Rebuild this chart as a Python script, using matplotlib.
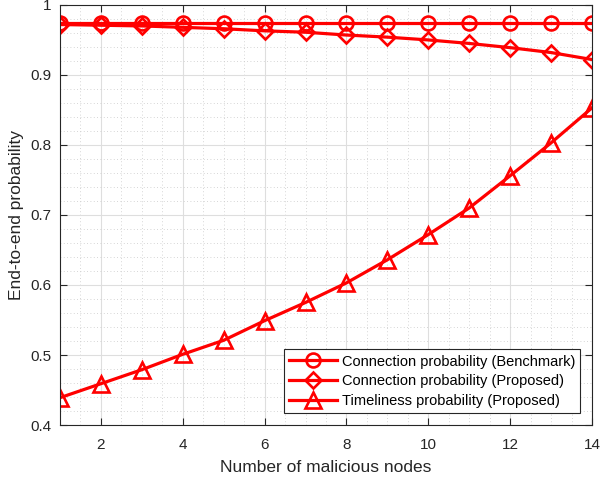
import numpy as np
import matplotlib
matplotlib.use("Agg")
import matplotlib.pyplot as plt
from matplotlib.ticker import MultipleLocator

plt.rcParams['font.family'] = ['Liberation Sans', 'DejaVu Sans']

n_nodes = np.arange(1, 15)
conn_bench = [0.974, 0.974, 0.974, 0.974, 0.974, 0.974, 0.974, 0.974, 0.974, 0.974, 0.974, 0.974, 0.974, 0.974]
conn_prop = [0.972, 0.971, 0.970, 0.968, 0.966, 0.963, 0.961, 0.957, 0.954, 0.950, 0.945, 0.939, 0.932, 0.922]
timely_prop = [0.439, 0.459, 0.479, 0.501, 0.521, 0.549, 0.575, 0.603, 0.636, 0.672, 0.710, 0.756, 0.803, 0.853]

labels = ['Connection probability (Benchmark)',
          'Connection probability (Proposed)',
          'Timeliness probability (Proposed)']

fig = plt.figure(figsize=(6.01, 4.79), dpi=100)
ax = fig.add_axes([0.0998, 0.1127, 0.8852, 0.877])

kw = dict(color='#ff0000', lw=2.3, markeredgewidth=1.9, markerfacecolor='none')
ax.plot(n_nodes, conn_bench, marker='o', markersize=10, label=labels[0], **kw)
ax.plot(n_nodes, conn_prop, marker='D', markersize=8.5, label=labels[1], **kw)
ax.plot(n_nodes, timely_prop, marker='^', markersize=11, label=labels[2], **kw)

ax.set_xlim(1, 14)
ax.set_ylim(0.4, 1.0)
ax.set_xticks([2, 4, 6, 8, 10, 12, 14])
ax.set_yticks([0.4, 0.5, 0.6, 0.7, 0.8, 0.9, 1.0])
ax.set_yticklabels(['0.4', '0.5', '0.6', '0.7', '0.8', '0.9', '1'])
ax.xaxis.set_minor_locator(MultipleLocator(0.5))
ax.yaxis.set_minor_locator(MultipleLocator(0.02))

ax.grid(True, which='major', color='#dedede', lw=0.8, ls='-')
ax.grid(True, which='minor', color='#c8c8c8', lw=0.6, ls=(0, (1, 3)))
ax.set_axisbelow(True)

ax.tick_params(which='both', direction='in', top=True, right=True,
               colors='#262626', labelsize=11)
ax.tick_params(which='major', length=5, width=0.8)
ax.tick_params(axis='x', which='major', pad=9)
ax.tick_params(axis='y', which='major', pad=6)
ax.tick_params(which='minor', length=0)
for s in ax.spines.values():
    s.set_color('#262626')
    s.set_linewidth(0.8)

ax.set_xlabel('Number of malicious nodes', fontsize=12.5, color='#262626', labelpad=6)
ax.set_ylabel('End-to-end probability', fontsize=12.5, color='#262626', labelpad=5)

leg = ax.legend(loc='lower right', fontsize=10.5, frameon=True, fancybox=False,
                edgecolor='#262626', framealpha=1, handlelength=3.3,
                borderaxespad=0.8, labelspacing=0.4, borderpad=0.35,
                handletextpad=0.3)
leg.get_frame().set_linewidth(0.8)

fig.savefig('out.png', dpi=100)
